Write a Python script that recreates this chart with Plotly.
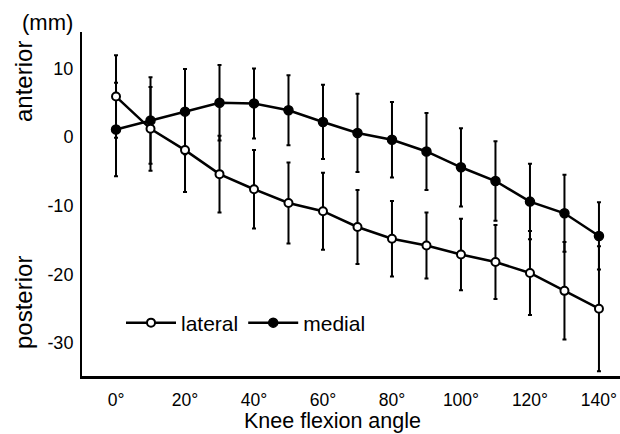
import plotly.graph_objects as go

angles = [0, 10, 20, 30, 40, 50, 60, 70, 80, 90, 100, 110, 120, 130, 140]
lateral = [5.9, 1.2, -1.9, -5.4, -7.6, -9.6, -10.8, -13.1, -14.8, -15.8, -17.1, -18.2, -19.8, -22.4, -25.0]
lateral_sd = [6.0, 6.1, 6.1, 5.6, 5.7, 5.9, 5.6, 5.4, 5.5, 4.8, 5.2, 5.4, 6.1, 7.1, 9.1]
medial = [1.1, 2.4, 3.7, 5.0, 4.9, 3.9, 2.2, 0.6, -0.4, -2.1, -4.4, -6.4, -9.4, -11.1, -14.4]
medial_sd = [6.8, 6.3, 6.2, 5.5, 5.1, 5.1, 5.4, 5.7, 5.5, 5.6, 5.7, 5.8, 5.5, 5.6, 4.9]

xtick_vals = [0, 20, 40, 60, 80, 100, 120, 140]
xtick_text = ["0°", "20°", "40°", "60°", "80°", "100°", "120°", "140°"]
ytick_vals = [10, 0, -10, -20, -30]
ytick_text = ["10", "0", "-10", "-20", "-30"]

FONT = "Liberation Sans, Arial, sans-serif"
W, H = 620, 434
ML, MR, MT, MB = 82, 0, 32, 58
PW, PH = W - ML - MR, H - MT - MB

def px(x):
    return (x - ML) / PW

def py(y):
    return 1 - (y - MT) / PH

fig = go.Figure()
fig.add_trace(go.Scatter(
    x=angles, y=medial, name="medial", mode="lines+markers",
    line=dict(color="black", width=2.5),
    marker=dict(symbol="circle", size=9, color="black", line=dict(color="black", width=1.5)),
    error_y=dict(type="data", array=medial_sd, visible=True, color="black", thickness=2, width=2),
))
fig.add_trace(go.Scatter(
    x=angles, y=lateral, name="lateral", mode="lines+markers",
    line=dict(color="black", width=2.5),
    marker=dict(symbol="circle", size=8, color="white", line=dict(color="black", width=2)),
    error_y=dict(type="data", array=lateral_sd, visible=True, color="black", thickness=2, width=2),
))

fig.update_layout(
    width=W, height=H,
    margin=dict(l=ML, r=MR, t=MT, b=MB, pad=0),
    paper_bgcolor="white", plot_bgcolor="white",
    font=dict(family=FONT, size=18, color="black"),
    showlegend=True,
    legend=dict(
        orientation="h", traceorder="reversed",
        x=px(121), y=py(323), xanchor="left", yanchor="middle",
        font=dict(size=21, family=FONT), bgcolor="rgba(0,0,0,0)",
        itemwidth=50, tracegroupgap=0,
    ),
    xaxis=dict(
        range=[-9.86, 146.1], showgrid=False, zeroline=False,
        showline=True, linecolor="black", linewidth=2.5,
        tickvals=xtick_vals, ticktext=xtick_text, ticks="", ticklabelstandoff=6,
        tickfont=dict(size=17.5, family=FONT),
    ),
    yaxis=dict(
        range=[-34.8, 15.3], showgrid=False, zeroline=False,
        showline=True, linecolor="black", linewidth=2,
        tickvals=ytick_vals, ticktext=ytick_text, ticks="", ticklabelstandoff=3,
        tickfont=dict(size=18, family=FONT),
    ),
    annotations=[
        dict(text="(mm)", x=px(47), y=py(23), xref="paper", yref="paper",
             showarrow=False, xanchor="center", yanchor="middle", font=dict(size=22, family=FONT)),
        dict(text="anterior", x=px(23), y=py(82), xref="paper", yref="paper", textangle=-90,
             showarrow=False, xanchor="center", yanchor="middle", font=dict(size=24, family=FONT)),
        dict(text="posterior", x=px(23), y=py(303), xref="paper", yref="paper", textangle=-90,
             showarrow=False, xanchor="center", yanchor="middle", font=dict(size=24, family=FONT)),
        dict(text="Knee flexion angle", x=px(332), y=py(421.5), xref="paper", yref="paper",
             showarrow=False, xanchor="center", yanchor="middle", font=dict(size=21.5, family=FONT)),
    ],
)

fig.write_html("out.html", config={"displayModeBar": False},
               post_script="document.body.style.margin='0';document.body.style.padding='0';")
